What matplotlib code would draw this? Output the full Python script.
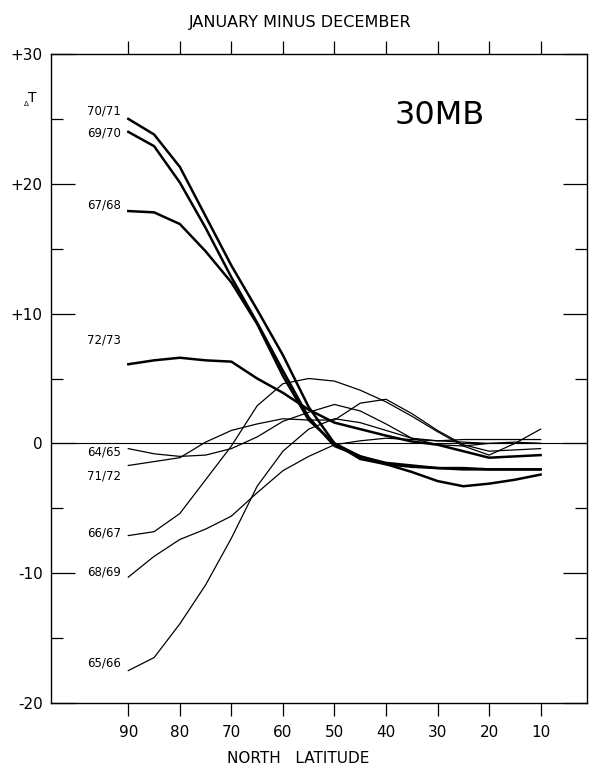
import numpy as np
import matplotlib
matplotlib.use("Agg")
import matplotlib.pyplot as plt
from matplotlib.ticker import MultipleLocator

# latitude points (deg N) and January-minus-December temperature change at 30 mb
lats = [90, 85, 80, 75, 70, 65, 60, 55, 50, 45, 40, 35, 30, 25, 20, 15, 10]

s7071 = [25.0, 23.8, 21.3, 17.5, 13.7, 10.3, 6.8, 2.8, 0.0, -1.2, -1.6, -2.2, -2.9, -3.3, -3.1, -2.8, -2.4]
s6970 = [24.0, 22.9, 20.1, 16.6, 12.8, 9.3, 5.6, 2.0, -0.2, -1.0, -1.5, -1.7, -1.9, -2.0, -2.0, -2.0, -2.0]
s6768 = [17.9, 17.8, 16.9, 14.8, 12.4, 9.2, 5.2, 1.8, 0.0, -1.0, -1.6, -1.8, -1.9, -1.9, -2.0, -2.0, -2.0]
s7273 = [6.1, 6.4, 6.6, 6.4, 6.3, 5.0, 3.9, 2.6, 1.6, 1.1, 0.6, 0.15, -0.1, -0.6, -1.1, -1.0, -0.9]
s6465 = [-0.4, -0.8, -1.0, -0.9, -0.4, 0.5, 1.7, 2.4, 3.0, 2.5, 1.5, 0.4, -0.1, -0.2, 0.0, 0.1, 0.0]
s7172 = [-1.7, -1.4, -1.1, 0.1, 1.0, 1.5, 1.9, 1.8, 1.8, 3.1, 3.4, 2.3, 1.0, -0.1, -0.6, -0.5, -0.4]
s6667 = [-7.1, -6.8, -5.4, -2.8, -0.2, 2.9, 4.6, 5.0, 4.8, 4.1, 3.2, 2.1, 0.9, -0.2, -0.9, 0.0, 1.1]
s6869 = [-10.3, -8.7, -7.4, -6.6, -5.6, -3.8, -2.1, -1.0, -0.1, 0.2, 0.4, 0.3, 0.2, 0.1, 0.0, 0.0, 0.0]
s6566 = [-17.5, -16.5, -13.9, -10.9, -7.3, -3.3, -0.6, 1.1, 1.9, 1.6, 1.0, 0.4, 0.2, 0.3, 0.3, 0.3, 0.3]

names = ["70/71", "69/70", "67/68", "72/73", "64/65", "71/72", "66/67", "68/69", "65/66"]
series = [s7071, s6970, s6768, s7273, s6465, s7172, s6667, s6869, s6566]
thick = [True, True, True, True, False, False, False, False, False]
label_y = [25.6, 23.9, 18.4, 8.0, -0.7, -2.5, -6.9, -9.9, -16.9]

ytick_vals = [-20, -10, 0, 10, 20, 30]
ytick_text = ["-20", "-10", "0", "+10", "+20", "+30"]
xtick_vals = [90, 80, 70, 60, 50, 40, 30, 20, 10]

fig = plt.figure(figsize=(5.89, 7.68), dpi=100)
ax = fig.add_axes([0.0866, 0.0846, 0.9100, 0.8451])

for name, vals, thk, ly in zip(names, series, thick, label_y):
    ax.plot(lats, vals, color="black", lw=1.8 if thk else 0.9, solid_joinstyle="round")
    ax.text(91.4, ly, name, ha="right", va="center", fontsize=8.5)

ax.axhline(0, color="black", lw=0.8)

ax.set_xlim(105, 1)
ax.set_ylim(-20, 30)

ax.set_xticks(xtick_vals)
ax.set_xticklabels([str(v) for v in xtick_vals], fontsize=11)
ax.set_yticks(ytick_vals)
ax.set_yticklabels(ytick_text, fontsize=11)
ax.yaxis.set_minor_locator(MultipleLocator(5))

ax.tick_params(axis="x", which="major", direction="out", length=9.5, width=0.9,
               top=True, labeltop=False, bottom=True, pad=6.5)
ax.tick_params(axis="y", which="major", direction="in", length=17, width=0.9,
               left=True, right=True, pad=6)
ax.tick_params(axis="y", which="minor", direction="in", length=8.5, width=0.9,
               left=True, right=True)

for sp in ax.spines.values():
    sp.set_linewidth(1.0)

fig.text(0.51, 0.971, "JANUARY MINUS DECEMBER", ha="center", va="center", fontsize=11.5)
fig.text(0.506, 0.013, "NORTH   LATITUDE", ha="center", va="center", fontsize=11)
fig.text(0.747, 0.849, "30MB", ha="center", va="center", fontsize=23)
fig.text(0.044, 0.864, "Δ", ha="center", va="center", fontsize=5)
fig.text(0.055, 0.873, "T", ha="center", va="center", fontsize=10)

fig.savefig("out.png", dpi=100)
